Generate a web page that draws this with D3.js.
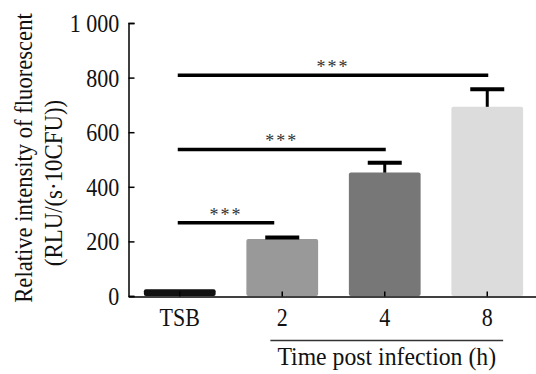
<!DOCTYPE html>
<html>
<head>
<meta charset="utf-8">
<script src="https://cdn.jsdelivr.net/npm/d3@7"></script>
<style>
  body { margin: 0; background: #fff; }
</style>
</head>
<body>
<svg id="chart" width="536" height="374"></svg>
<script>
// values
const groups = ["TSB", "2", "4", "8"];
const means = [25, 209, 452, 693];
const errors = [0, 5, 36, 64];
const barColors = ["#111111", "#999999", "#777777", "#dcdcdc"];
const yTicks = [0, 200, 400, 600, 800, 1000];
// significance brackets: from group, to group, height (data units)
const sigFrom = ["TSB", "TSB", "TSB"];
const sigTo = ["2", "4", "8"];
const sigLevel = [268, 537, 809];
const sigLabel = ["***", "***", "***"];

const serif = "'Liberation Serif', 'Times New Roman', Times, serif";
const svg = d3.select("#chart");
const fontSize = 25;
const squeeze = 0.88; // the source font is narrow for its height

const x = d3.scaleBand()
    .domain(groups)
    .range([128.5, 538.5])
    .paddingInner(0.3)
    .paddingOuter(0.15);

const y = d3.scaleLinear()
    .domain([0, 1000])
    .range([296, 23]);

const bw = x.bandwidth();

// bars
svg.append("g").selectAll("rect")
    .data(groups)
    .enter()
    .append("rect")
    .attr("x", d => x(d))
    .attr("y", (d, i) => y(means[i]))
    .attr("width", bw)
    .attr("height", (d, i) => y(0) - y(means[i]))
    .attr("rx", 2)
    .attr("fill", (d, i) => barColors[i]);

// error bars (upper only)
const eb = svg.append("g");
groups.forEach((g, i) => {
    if (!errors[i]) return;
    const cx = x(g) + bw / 2;
    eb.append("line")
        .attr("x1", cx).attr("x2", cx)
        .attr("y1", y(means[i])).attr("y2", y(means[i] + errors[i]))
        .attr("stroke", "#000").attr("stroke-width", 3);
    eb.append("line")
        .attr("x1", cx - 17).attr("x2", cx + 17)
        .attr("y1", y(means[i] + errors[i])).attr("y2", y(means[i] + errors[i]))
        .attr("stroke", "#000").attr("stroke-width", 4);
});

// y axis, ticks pointing inward
const yAxis = svg.append("g")
    .attr("transform", "translate(128.5,0)")
    .call(d3.axisLeft(y).tickValues(yTicks).tickSize(-6).tickPadding(10.5)
        .tickFormat(d => d === 1000 ? "1 000" : d));
yAxis.select(".domain").attr("stroke", "#000").attr("stroke-width", 1.5);
yAxis.selectAll(".tick line").attr("stroke", "#000").attr("stroke-width", 1.5);

// x axis, ticks pointing up
const xAxis = svg.append("g")
    .attr("transform", "translate(0,296.5)")
    .call(d3.axisBottom(x).tickSize(-5).tickSizeOuter(0).tickPadding(11.5));
xAxis.select(".domain").attr("stroke", "#000").attr("stroke-width", 1.5);
xAxis.selectAll(".tick line").attr("stroke", "#000").attr("stroke-width", 1.5);

[yAxis, xAxis].forEach(a => {
    a.attr("font-family", serif).attr("font-size", fontSize);
    a.selectAll("text")
        .attr("fill", "#111")
        .attr("transform", `scale(${squeeze},1)`);
});
yAxis.selectAll("text").attr("dy", "0.34em");

// significance brackets
const sg = svg.append("g").attr("font-family", serif);
sigTo.forEach((t, i) => {
    const x1 = x(sigFrom[i]) + bw / 2 - 2;
    const x2 = x(t) + bw / 2 + (i === 0 ? -8 : 1);
    const yy = y(sigLevel[i]);
    sg.append("line")
        .attr("x1", x1).attr("x2", x2)
        .attr("y1", yy).attr("y2", yy)
        .attr("stroke", "#000").attr("stroke-width", 3.5);
    sg.append("text")
        .attr("x", (x1 + x2) / 2)
        .attr("y", yy - 2)
        .attr("text-anchor", "middle")
        .attr("font-size", 18)
        .attr("letter-spacing", 2)
        .attr("fill", "#333")
        .text(sigLabel[i]);
});

// group line + x title
const gx1 = x("2") + 24, gx2 = x("8") + bw - 20;
svg.append("line")
    .attr("x1", gx1).attr("x2", gx2)
    .attr("y1", 340.5).attr("y2", 340.5)
    .attr("stroke", "#333").attr("stroke-width", 1.5);

const titles = svg.append("g")
    .attr("font-family", serif)
    .attr("font-size", 25)
    .attr("fill", "#111");

titles.append("text")
    .attr("transform", `translate(${(gx1 + gx2) / 2},364.5) scale(0.95,1)`)
    .attr("text-anchor", "middle")
    .text("Time post infection (h)");

// y title, two lines
titles.append("text")
    .attr("transform", "translate(32,158) rotate(-90) scale(0.87,1)")
    .attr("text-anchor", "middle")
    .attr("font-size", 26)
    .text("Relative intensity of fluorescent");

titles.append("text")
    .attr("transform", "translate(62,183) rotate(-90) scale(0.88,1)")
    .attr("text-anchor", "middle")
    .attr("font-size", 26)
    .text("(RLU/(s·10CFU))");
</script>
</body>
</html>
